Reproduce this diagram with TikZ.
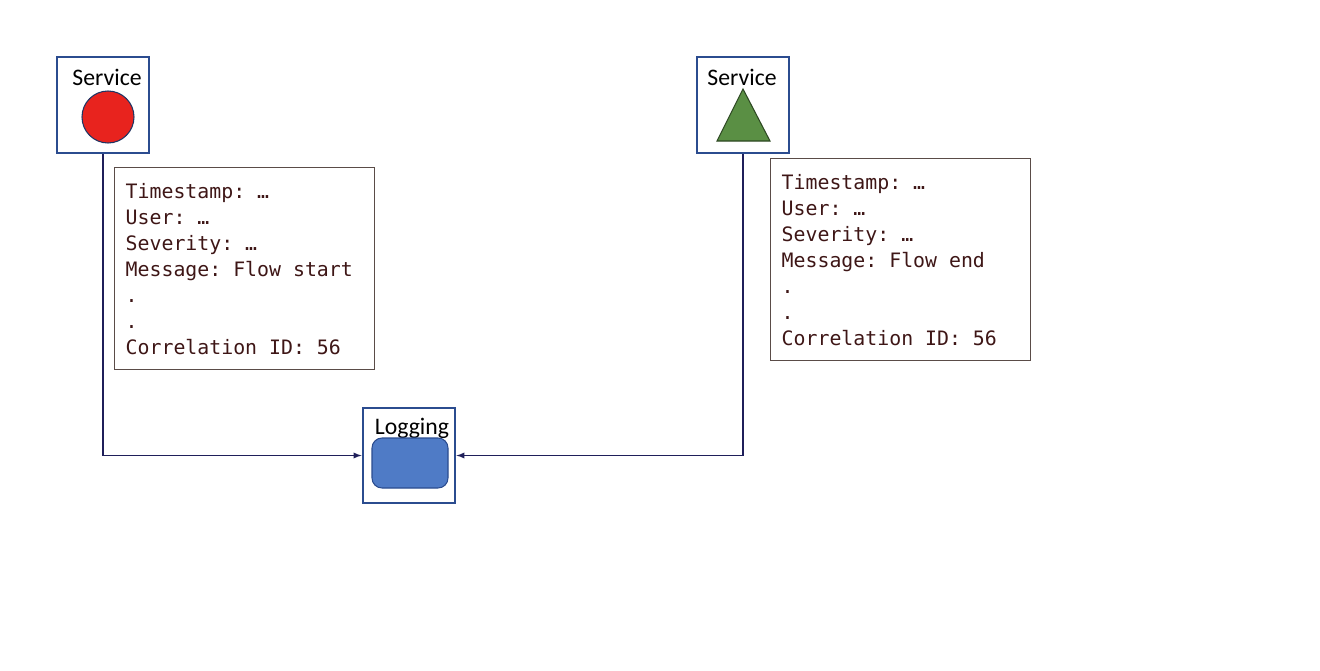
\documentclass[tikz,border=0pt]{standalone}
\usepackage{fontspec}
\setsansfont{Carlito}
\setmonofont{DejaVu Sans Mono}
\usepackage{tikz}
\usetikzlibrary{arrows,shapes,positioning}

\definecolor{boxblue}{HTML}{2B4C8F}
\definecolor{logtext}{HTML}{3E1616}
\definecolor{logedge}{HTML}{5A4C48}
\definecolor{dotred}{HTML}{E8231E}
\definecolor{trigreen}{HTML}{5A8F44}
\definecolor{dbblue}{HTML}{4F7BC6}
\definecolor{wire}{HTML}{1F1F5A}

% fixed-width blanks for the log lines
\newcommand{\logfont}{\ttfamily\frenchspacing\fontsize{11.3}{14.8}\selectfont}
\newcommand{\fixblanks}{\spaceskip=0.602em\relax\xspaceskip=0.602em\relax}

\begin{document}
\begin{tikzpicture}[
        every path/.style={line join=miter},
        service/.style={draw=boxblue, line width=1.6pt, fill=white, minimum width=1.84cm, minimum height=1.92cm},
        caption/.style={font=\sffamily\fontsize{13.5}{16}\selectfont, text=black, inner sep=0pt},
        logbox/.style={draw=logedge, line width=0.8pt, anchor=north west, align=left, text width=4.76cm,
            minimum height=4.04cm, inner xsep=0.22cm, inner ysep=0pt, text=logtext, font=\logfont,
            execute at begin node=\fixblanks},
        link/.style={draw=wire, line width=0.6pt, ->, >=latex}
    ]

    \useasboundingbox (0,0) rectangle (26.4,-13.42);

    % Nodes
    \node (svcA) [service] at (2.06,-2.10) {};
    \node (svcAtitle) [caption] at (2.14,-1.54) {Service};
    \node (redDot) [circle, draw=boxblue!70!black, line width=0.6pt, fill=dotred, minimum size=1.04cm, inner sep=0pt] at (2.16,-2.34) {};

    \node (svcB) [service] at (14.86,-2.10) {};
    \node (svcBtitle) [caption] at (14.84,-1.54) {Service};
    \draw[draw=trigreen!50!black, line width=0.6pt, fill=trigreen] (14.86,-1.78) -- (15.40,-2.82) -- (14.34,-2.82) -- cycle;

    \node (logging) [service, minimum height=1.90cm] at (8.18,-9.11) {};
    \node (logTitle) [caption] at (8.24,-8.56) {Logging};
    \node (logStore) [draw=boxblue, line width=0.6pt, fill=dbblue, rounded corners=0.2cm, minimum width=1.52cm, minimum height=1.0cm] at (8.20,-9.26) {};

    \node (startLog) [logbox] at (2.28,-3.34) {Timestamp: …\\
        User: …\\
        Severity: …\\
        Message: Flow start\\
        .\\
        .\\
        Correlation ID: 56};
    \node (endLog) [logbox] at (15.40,-3.16) {Timestamp: …\\
        User: …\\
        Severity: …\\
        Message: Flow end\\
        .\\
        .\\
        Correlation ID: 56};

    % Edges
    \draw[link] (svcA.south) |- (logging.west);
    \draw[link] (svcB.south) |- (logging.east);

\end{tikzpicture}
\end{document}
